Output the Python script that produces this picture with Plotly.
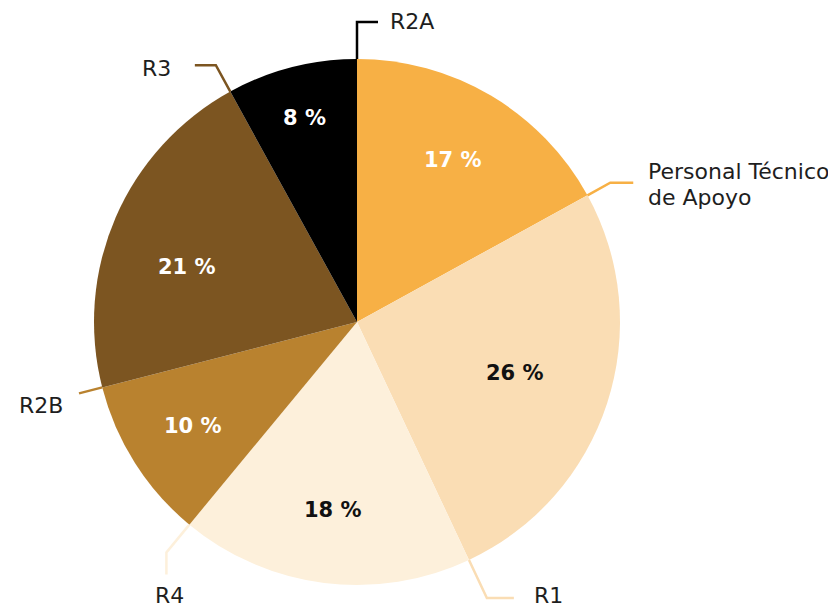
import math
import plotly.graph_objects as go

# ---- data ----
labels = ["Personal Técnico<br>de Apoyo", "R1", "R4", "R2B", "R3", "R2A"]
values = [17, 26, 18, 10, 21, 8]
colors = ["#F7B045", "#FADDB4", "#FDF0DB", "#B9822F", "#7C5521", "#000000"]
pct_colors = ["white", "#111111", "#111111", "white", "white", "white"]

W, H = 836, 609
PAGE_OFF = 8                      # browser body margin
CX, CY, R = 357 - PAGE_OFF, 322 - PAGE_OFF, 263

# leader style per slice: radial length, second segment (dx, dy), label offset, anchor
leader = [
    dict(l1=26, d2=(23, 0), off=(13, 2), xa="left"),
    dict(l1=42, d2=(27, 0), off=(18, -2), xa="left"),
    dict(l1=36, d2=(0, 22), off=(3, 21), xa="center"),
    dict(l1=24, d2=(0, 0), off=(-14, 12), xa="right"),
    dict(l1=30, d2=(-21, 0), off=(-22, 3), xa="right"),
    dict(l1=37, d2=(21, 0), off=(10, 0), xa="left"),
]
pct_r = [0.715, 0.63, 0.72, 0.74, 0.68, 0.80]
pct_dang = [0, 0, 0, 0, -5.5, 0]   # degrees
LINE_GAP = 26

fig = go.Figure()
fig.add_trace(go.Pie(
    labels=labels, values=values, sort=False, direction="clockwise",
    marker=dict(colors=colors, line=dict(width=0)),
    textinfo="none", hoverinfo="label+percent", showlegend=False,
    domain=dict(x=[(CX - R) / W, (CX + R) / W], y=[1 - (CY + R) / H, 1 - (CY - R) / H]),
))

def px(x, y):
    return x / W, 1 - y / H

total = sum(values)
cum = 0
shapes, annotations = [], []
for i, v in enumerate(values):
    start = cum / total * 2 * math.pi
    cum += v
    end = cum / total * 2 * math.pi
    mid = (start + end) / 2 + math.radians(pct_dang[i])
    # percentage label
    rx = CX + pct_r[i] * R * math.sin(mid)
    ry = CY - pct_r[i] * R * math.cos(mid)
    ax, ay = px(rx, ry)
    annotations.append(dict(x=ax, y=ay, xref="paper", yref="paper", showarrow=False,
                            xanchor="center", yanchor="middle",
                            text=f"<b>{v} %</b>",
                            font=dict(family="DejaVu Sans", size=21, color=pct_colors[i])))
    # leader line from the slice's end boundary
    s = leader[i]
    x0 = CX + R * math.sin(end)
    y0 = CY - R * math.cos(end)
    x1 = x0 + s["l1"] * math.sin(end)
    y1 = y0 - s["l1"] * math.cos(end)
    x2 = x1 + s["d2"][0]
    y2 = y1 + s["d2"][1]
    p0, p1, p2 = px(x0, y0), px(x1, y1), px(x2, y2)
    shapes.append(dict(type="path", xref="paper", yref="paper",
                       path=f"M {p0[0]} {p0[1]} L {p1[0]} {p1[1]} L {p2[0]} {p2[1]}",
                       line=dict(color=colors[i], width=2.5)))
    lines = labels[i].split("<br>")
    n = len(lines)
    for k, t in enumerate(lines):
        dy = (k - (n - 1) / 2) * LINE_GAP
        lx, ly = px(x2 + s["off"][0], y2 + s["off"][1] + dy)
        annotations.append(dict(x=lx, y=ly, xref="paper", yref="paper", showarrow=False,
                                text=t, xanchor=s["xa"], yanchor="middle", align="left",
                                font=dict(family="DejaVu Sans", size=22, color="#1e1e1e")))

fig.update_layout(width=W, height=H, margin=dict(l=0, r=0, t=0, b=0),
                  paper_bgcolor="white", plot_bgcolor="white",
                  shapes=shapes, annotations=annotations)
fig.write_html("out.html")
